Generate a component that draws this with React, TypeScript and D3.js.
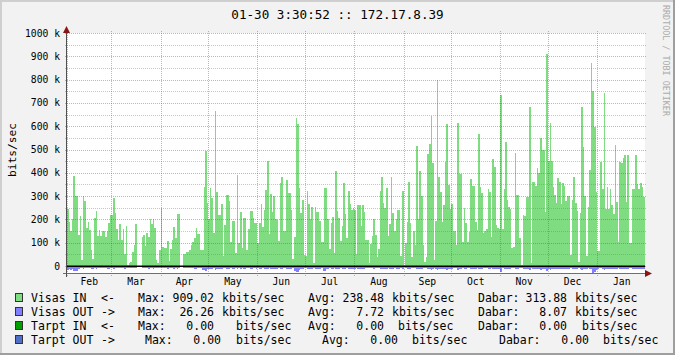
import React from "react";
import * as d3 from "d3";

// ---- data (kbits/sec, daily averages, Feb 1 .. Jan 30) ----
const startDay = Date.UTC(2013, 1, 1);
const endTime = Date.UTC(2014, 0, 31, 3);

const visasIn = [
  245, 189, 150, 202, 388, 302, 300, 133, 215, 27,
  302, 279, 165, 190, 155, 70, 32, 206, 236, 130,
  155, 130, 149, 149, 126, 150, 183, 217, 219, 292,
  227, 159, 113, 180, 113, 159, 50, 170, 4, 11,
  16, 60, 90, 179, 0, 0, 0, 124, 132, 87,
  142, 126, 203, 180, 203, 163, 26, 14, 69, 249,
  82, 77, 77, 107, 20, 73, 113, 167, 120, 225,
  225, 0, 0, 52, 52, 62, 62, 69, 90, 103,
  119, 163, 137, 137, 69, 69, 339, 494, 270, 200,
  336, 292, 143, 665, 318, 217, 219, 266, 44, 177,
  305, 305, 278, 104, 195, 195, 57, 391, 100, 233,
  77, 205, 205, 69, 157, 236, 236, 205, 186, 186,
  100, 186, 266, 166, 240, 325, 449, 136, 309, 230,
  302, 200, 197, 109, 356, 381, 149, 149, 369, 315,
  315, 240, 30, 126, 635, 609, 335, 227, 283, 47,
  44, 320, 266, 202, 255, 13, 252, 233, 233, 193,
  102, 102, 335, 335, 200, 73, 183, 210, 54, 408,
  235, 207, 107, 172, 356, 223, 122, 322, 265, 240,
  248, 240, 52, 262, 262, 172, 262, 233, 112, 112,
  11, 94, 129, 200, 133, 40, 73, 320, 382, 270,
  247, 335, 129, 180, 382, 226, 150, 202, 240, 240,
  44, 320, 0, 100, 190, 359, 186, 40, 150, 90,
  516, 200, 406, 300, 90, 16, 40, 481, 524, 642,
  443, 26, 193, 798, 382, 318, 190, 263, 448, 609,
  346, 245, 266, 150, 150, 90, 614, 395, 395, 104,
  249, 186, 104, 147, 372, 343, 343, 187, 155, 565,
  339, 312, 142, 150, 159, 329, 319, 126, 459, 425,
  176, 165, 157, 734, 159, 330, 531, 283, 255, 245,
  77, 82, 484, 305, 305, 120, 3, 219, 215, 298,
  298, 681, 11, 359, 359, 345, 421, 398, 548, 498,
  498, 230, 910, 451, 612, 451, 340, 305, 272, 376,
  359, 266, 356, 343, 280, 300, 300, 47, 285, 382,
  272, 236, 19, 229, 682, 509, 302, 44, 255, 412,
  870, 751, 598, 316, 66, 66, 446, 330, 742, 243,
  339, 243, 329, 263, 225, 518, 275, 104, 445, 441,
  462, 475, 275, 475, 100, 100, 332, 330, 478, 352,
  332, 355, 340, 298,
];

const visasOut = [
  12, 10, 14, 8, 18, 16, 20, 10, 6, 7, 8, 6, 5, 6, 7, 8, 9, 6, 8, 7, 6, 5, 6, 7, 6, 8, 9, 7, 6, 8,
  7, 6, 5, 6, 7, 6, 8, 5, 4, 3, 3, 4, 6, 7, 0, 0, 0, 7, 6, 6, 7, 8, 6, 7, 8, 6, 5, 4, 5, 7,
  6, 6, 7, 8, 5, 6, 7, 8, 7, 8, 6, 0, 0, 4, 5, 5, 6, 6, 7, 7, 8, 8, 7, 7, 6, 12, 14, 20, 9, 8,
  9, 8, 7, 14, 10, 8, 8, 9, 6, 7, 8, 8, 9, 7, 8, 8, 6, 9, 7, 8, 6, 8, 8, 6, 7, 8, 8, 7, 7, 8,
  6, 8, 9, 7, 8, 9, 10, 7, 9, 8, 9, 8, 8, 7, 10, 9, 7, 7, 10, 9, 9, 8, 6, 16, 22, 24, 14, 10, 9, 6,
  6, 9, 8, 8, 8, 5, 8, 8, 8, 8, 7, 20, 16, 9, 8, 6, 8, 8, 6, 10, 8, 8, 7, 8, 10, 8, 7, 9, 8, 8,
  8, 8, 6, 9, 9, 8, 9, 8, 7, 7, 5, 7, 7, 8, 7, 5, 6, 9, 10, 9, 9, 10, 7, 8, 10, 9, 7, 8, 9, 9,
  5, 9, 0, 7, 8, 10, 8, 5, 7, 6, 11, 8, 10, 9, 6, 4, 5, 10, 11, 12, 10, 4, 8, 14, 10, 9, 8, 9, 11, 12,
  10, 9, 9, 7, 7, 6, 12, 10, 10, 7, 9, 8, 7, 7, 10, 10, 10, 8, 7, 11, 10, 9, 7, 7, 7, 9, 9, 7, 10, 10,
  8, 8, 8, 22, 7, 9, 11, 9, 9, 8, 6, 6, 10, 9, 9, 7, 3, 8, 8, 9, 9, 13, 4, 10, 10, 10, 11, 11, 12, 11,
  11, 8, 18, 10, 13, 10, 9, 9, 9, 10, 10, 9, 10, 10, 9, 9, 9, 5, 9, 10, 9, 8, 4, 8, 13, 11, 9, 9, 5, 9,
  10, 26, 22, 14, 8, 6, 6, 10, 15, 9, 10, 9, 9, 9, 8, 11, 9, 7, 10, 10, 10, 11, 9, 10, 6, 6, 9, 9, 11, 9,
  9, 9, 9, 9,
];

const yMajor = [0, 100, 200, 300, 400, 500, 600, 700, 800, 900, 1000];
const yMinor = [50, 150, 250, 350, 450, 550, 650, 750, 850, 950];
const yLabels = ["0", "100 k", "200 k", "300 k", "400 k", "500 k", "600 k", "700 k", "800 k", "900 k", "1000 k"];

const titleText = "01-30 3:30:52 :: 172.17.8.39";
const yAxisTitle = "bits/sec";
const watermark = "RRDTOOL / TOBI OETIKER";

const seriesNames = ["Visas IN", "Visas OUT", "Tarpt IN", "Tarpt OUT"];
const seriesArrows = ["<-", "->", "<-", "->"];
const seriesColors = ["#80DC80", "#8080FF", "#00A000", "#4F6FC8"];
const maxVals = ["909.02", "26.26", "0.00", "0.00"];
const avgVals = ["238.48", "7.72", "0.00", "0.00"];
const curVals = ["313.88", "8.07", "0.00", "0.00"];
const units = ["kbits/sec", "kbits/sec", "bits/sec", "bits/sec"];

const MONO = "'DejaVu Sans Mono', monospace";
const W = 675;
const H = 355;

export default function App() {
  const X0 = 67, X1 = 645, YT = 33, YB = 273;
  const x = d3.scaleUtc().domain([new Date(startDay), new Date(endTime)]).range([X0, X1]);
  const y = d3.scaleLinear().domain([-30, 1000]).range([YB, YT]);

  const n = visasIn.length;
  const dayDate = (i: number) => new Date(startDay + i * 864e5);
  const inPts: [Date, number][] = visasIn.map((v, i) => [dayDate(i), v]);
  inPts.push([dayDate(n), visasIn[n - 1]]);
  const outPts: [Date, number][] = visasOut.map((v, i) => [dayDate(i), v]);
  outPts.push([dayDate(outPts.length), visasOut[visasOut.length - 1]]);

  const areaIn = d3
    .area<[Date, number]>()
    .x((d) => Math.min(x(d[0]), X1))
    .y0(y(0))
    .y1((d) => y(d[1]))
    .curve(d3.curveStepAfter);
  const areaOut = d3
    .area<[Date, number]>()
    .x((d) => Math.min(x(d[0]), X1))
    .y0(y(0))
    .y1((d) => y(-d[1]) + 0.8)
    .curve(d3.curveStepAfter);

  const months = d3.utcMonth.range(new Date(startDay), new Date(Date.UTC(2014, 1, 1)));
  const monthFmt = d3.utcFormat("%b");

  const py = (v: number) => Math.round(y(v)) + 0.5;
  const px = (d: Date) => Math.round(x(d)) + 0.5;

  const majorGrid = "rgba(200,40,40,0.42)";
  const minorGrid = "rgba(120,120,120,0.42)";

  const rowY = [302, 316, 330, 344];
  const layout = [
    { max: 138, maxEnd: 214, unitX: 222, avg: 308, avgEnd: 384, avgUnit: 392, cur: 478, curEnd: 567, curUnit: 575 },
    { max: 138, maxEnd: 214, unitX: 222, avg: 308, avgEnd: 384, avgUnit: 392, cur: 478, curEnd: 567, curUnit: 575 },
    { max: 138, maxEnd: 214, unitX: 236, avg: 308, avgEnd: 384, avgUnit: 398, cur: 478, curEnd: 567, curUnit: 582 },
    { max: 145, maxEnd: 221, unitX: 236, avg: 322, avgEnd: 398, avgUnit: 412, cur: 499, curEnd: 589, curUnit: 603 },
  ];

  const zeroY = Math.round(y(0));

  return (
    <svg
      width={W}
      height={H}
      style={{ position: "absolute", left: 0, top: 0, display: "block" }}
      fontFamily={MONO}
    >
      <rect x={0} y={0} width={W} height={H} fill="#F2F2F2" />
      <rect x={0} y={0} width={W} height={2} fill="#CFCFCF" />
      <rect x={0} y={0} width={2} height={H} fill="#CFCFCF" />
      <rect x={0} y={H - 2} width={W} height={2} fill="#9E9E9E" />
      <rect x={W - 2} y={0} width={2} height={H} fill="#9E9E9E" />

      <rect x={X0} y={YT} width={X1 - X0} height={YB - YT} fill="#FFFFFF" />

      <g shapeRendering="crispEdges">
        <path d={areaIn(inPts) ?? ""} fill="#80DC80" />
        <path d={areaOut(outPts) ?? ""} fill="#8080FF" />
      </g>

      <g shapeRendering="crispEdges" strokeDasharray="1,1">
        {yMinor.map((v) => (
          <line key={"mi" + v} x1={X0 - 2} x2={X1 + 2} y1={py(v)} y2={py(v)} stroke={minorGrid} />
        ))}
        {yMajor.map((v) => (
          <line key={"ma" + v} x1={X0 - 2} x2={X1 + 2} y1={py(v)} y2={py(v)} stroke={majorGrid} />
        ))}
        {months.map((m) => (
          <line key={"vm" + m.getTime()} x1={px(m)} x2={px(m)} y1={YT - 2} y2={YB + 3} stroke={majorGrid} />
        ))}
      </g>

      <rect x={X0} y={zeroY - 0.5} width={X1 - X0} height={1.5} fill="#000" />

      <line x1={X0 - 4} x2={X1 + 2} y1={YB + 0.5} y2={YB + 0.5} stroke="#707070" />
      <line x1={X0 - 0.5} x2={X0 - 0.5} y1={YB + 4} y2={YT - 3} stroke="#505050" />
      <path d={`M${X0 - 4},${YT} L${X0 + 3},${YT} L${X0 - 0.5},${YT - 7} Z`} fill="#8B1414" />
      <path d={`M${X1},${YB - 3} L${X1},${YB + 4} L${X1 + 7},${YB + 0.5} Z`} fill="#8B1414" />

      <g fontSize={9.7} fill="#000" textAnchor="end">
        {yMajor.map((v, i) => (
          <text key={"yl" + v} x={60} y={y(v) + 3.5}>
            {yLabels[i]}
          </text>
        ))}
      </g>

      <g fontSize={9.7} fill="#000" textAnchor="middle">
        {months.map((m) => {
          const next = d3.utcMonth.offset(m, 1);
          const cx = (x(m) + x(next)) / 2;
          return (
            <text key={"ml" + m.getTime()} x={cx} y={285}>
              {monthFmt(m)}
            </text>
          );
        })}
      </g>

      <text x={W / 2} y={19} fontSize={12.6} textAnchor="middle" fill="#000">
        {titleText}
      </text>

      <text
        transform={`translate(16,${(YT + YB) / 2 - 3}) rotate(-90)`}
        fontSize={11.2}
        textAnchor="middle"
        fill="#000"
      >
        {yAxisTitle}
      </text>

      <text transform={`translate(663,5) rotate(90)`} fontSize={8.4} fill="#ABABAB">
        {watermark}
      </text>

      <g fontSize={11.5} fill="#000">
        {seriesNames.map((name, i) => {
          const L = layout[i];
          const ry = rowY[i];
          return (
            <g key={"lg" + i}>
              <rect x={15.5} y={ry - 8.5} width={7} height={8} fill={seriesColors[i]} stroke="#333" strokeWidth={1} />
              <text x={31} y={ry}>{name}</text>
              <text x={101} y={ry}>{seriesArrows[i]}</text>
              <text x={L.max} y={ry}>Max:</text>
              <text x={L.maxEnd} y={ry} textAnchor="end">{maxVals[i]}</text>
              <text x={L.unitX} y={ry}>{units[i]}</text>
              <text x={L.avg} y={ry}>Avg:</text>
              <text x={L.avgEnd} y={ry} textAnchor="end">{avgVals[i]}</text>
              <text x={L.avgUnit} y={ry}>{units[i]}</text>
              <text x={L.cur} y={ry}>Dabar:</text>
              <text x={L.curEnd} y={ry} textAnchor="end">{curVals[i]}</text>
              <text x={L.curUnit} y={ry}>{units[i]}</text>
            </g>
          );
        })}
      </g>
    </svg>
  );
}
